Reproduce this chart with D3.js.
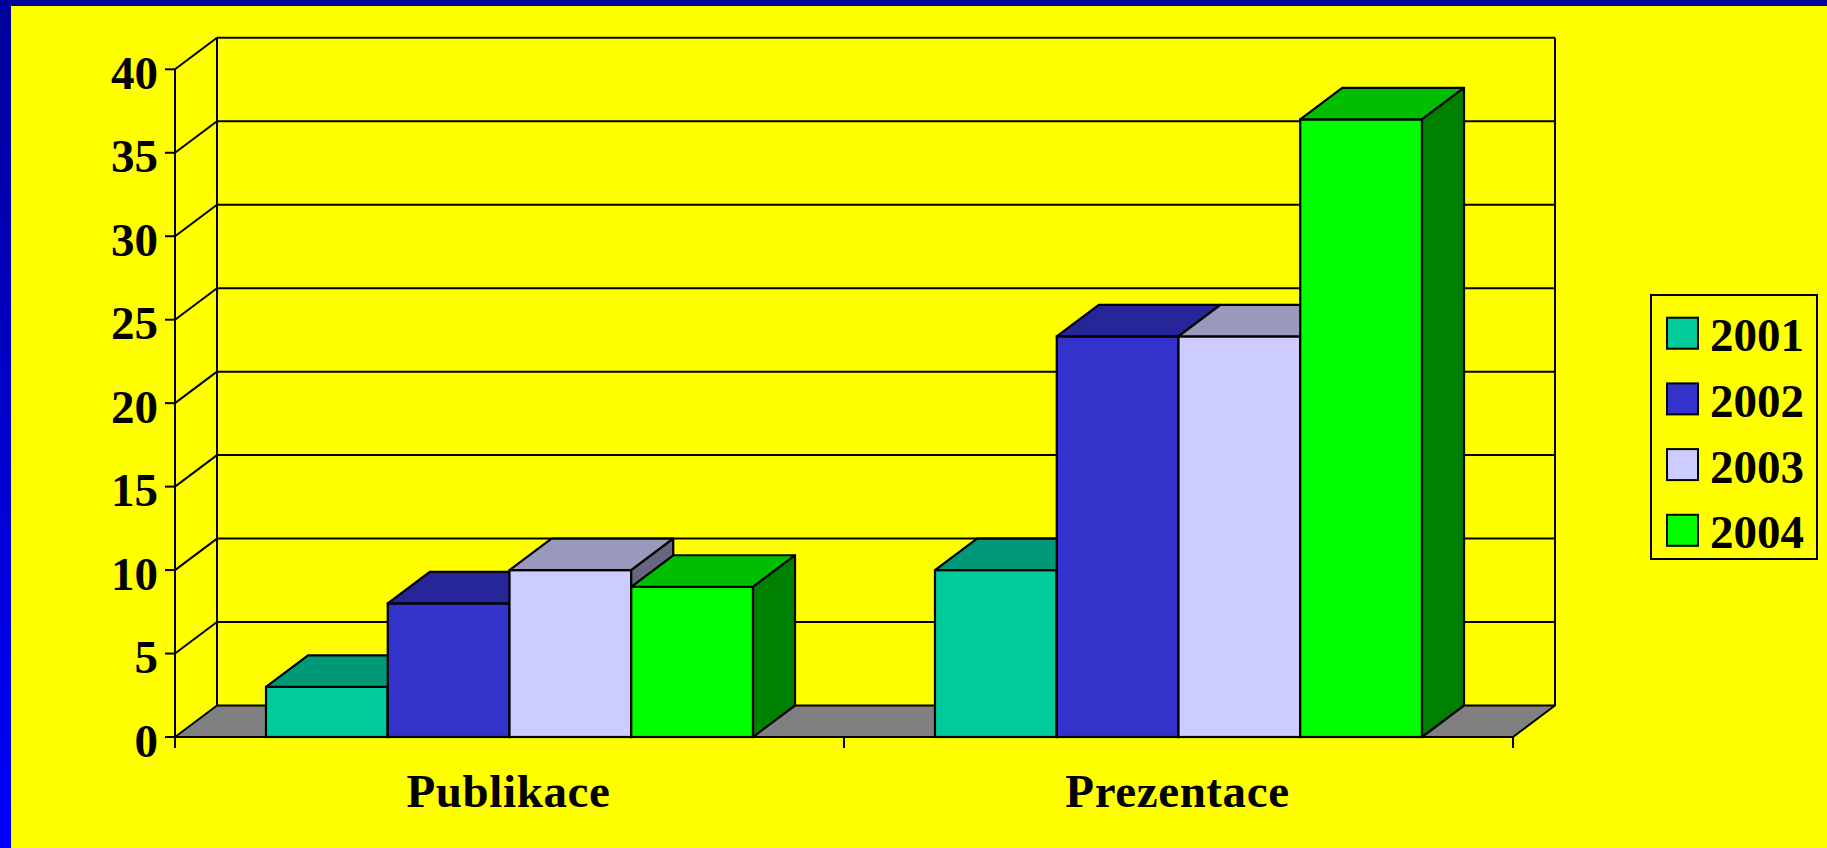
<!DOCTYPE html>
<html>
<head>
<meta charset="utf-8">
<script src="https://cdn.jsdelivr.net/npm/d3@7"></script>
<style>
html,body{margin:0;padding:0;background:#ffff00;}
svg{display:block;}
text{font-family:"Liberation Serif","Times New Roman",serif;font-weight:bold;fill:#000;}
</style>
</head>
<body>
<svg id="chart" width="1827" height="848"></svg>
<script>
const categories = ["Publikace", "Prezentace"];
const years = ["2001", "2002", "2003", "2004"];
const values2001 = [3, 10];
const values2002 = [8, 24];
const values2003 = [10, 24];
const values2004 = [9, 37];
const yTicks = [0, 5, 10, 15, 20, 25, 30, 35, 40];

const seriesValues = [values2001, values2002, values2003, values2004];
const frontColors = ["#00cc99", "#3333cc", "#ccccff", "#00ff00"];
const topColors = ["#009977", "#262699", "#9999bb", "#00bf00"];
const sideColors = ["#007f5f", "#1f1f80", "#666680", "#008000"];

const W = 1827, H = 848;
const svg = d3.select("#chart");

// background + frame
const defs = svg.append("defs");
const grad = defs.append("linearGradient").attr("id", "frameGrad")
  .attr("x1", 0).attr("y1", 0).attr("x2", 0).attr("y2", 1);
grad.append("stop").attr("offset", "0%").attr("stop-color", "#000099");
grad.append("stop").attr("offset", "100%").attr("stop-color", "#0000ff");
svg.append("rect").attr("x", 0).attr("y", 0).attr("width", W).attr("height", H).attr("fill", "url(#frameGrad)");
svg.append("rect").attr("x", 11).attr("y", 6).attr("width", W - 11).attr("height", H - 6).attr("fill", "#ffff00");

// geometry
const xFrontL = 175, xFrontR = 1513;
const dx = 42, dy = 31.5;
const y = d3.scaleLinear().domain([0, 40]).range([737, 69.3]);
const x = d3.scaleBand().domain(categories).range([xFrontL, xFrontR]).paddingInner(0).paddingOuter(0);
const groupW = 487;
const xs = d3.scaleBand().domain(years)
  .range([(x.bandwidth() - groupW) / 2, (x.bandwidth() + groupW) / 2])
  .paddingInner(0).paddingOuter(0);

const y0 = y(0);
const g = svg.append("g");

// gridlines on back wall and side wall
yTicks.filter(v => v > 0).forEach(v => {
  const yy = y(v);
  g.append("line").attr("x1", xFrontL + dx).attr("y1", yy - dy).attr("x2", xFrontR + dx).attr("y2", yy - dy)
    .attr("stroke", "#000").attr("stroke-width", 2);
  g.append("line").attr("x1", xFrontL).attr("y1", yy).attr("x2", xFrontL + dx).attr("y2", yy - dy)
    .attr("stroke", "#000").attr("stroke-width", 2);
});
// back wall verticals
g.append("line").attr("x1", xFrontL + dx).attr("y1", y(40) - dy).attr("x2", xFrontL + dx).attr("y2", y0 - dy)
  .attr("stroke", "#000").attr("stroke-width", 2);
g.append("line").attr("x1", xFrontR + dx).attr("y1", y(40) - dy).attr("x2", xFrontR + dx).attr("y2", y0 - dy)
  .attr("stroke", "#000").attr("stroke-width", 2);

// floor
g.append("polygon")
  .attr("points", [[xFrontL, y0], [xFrontR, y0], [xFrontR + dx, y0 - dy], [xFrontL + dx, y0 - dy]].map(p => p.join(",")).join(" "))
  .attr("fill", "#808080").attr("stroke", "#000").attr("stroke-width", 2).attr("stroke-linejoin", "round");

// bars
categories.forEach((cat, ci) => {
  years.forEach((yr, si) => {
    const v = seriesValues[si][ci];
    const bx = x(cat) + xs(yr);
    const bw = xs.bandwidth();
    const yv = y(v);
    const bg = g.append("g");
    bg.append("rect").attr("x", bx).attr("y", yv).attr("width", bw).attr("height", y0 - yv)
      .attr("fill", frontColors[si]).attr("stroke", "#000").attr("stroke-width", 2.2);
    bg.append("polygon")
      .attr("points", [[bx, yv], [bx + dx, yv - dy], [bx + bw + dx, yv - dy], [bx + bw, yv]].map(p => p.join(",")).join(" "))
      .attr("fill", topColors[si]).attr("stroke", "#000").attr("stroke-width", 2.2).attr("stroke-linejoin", "round");
    bg.append("polygon")
      .attr("points", [[bx + bw, yv], [bx + bw + dx, yv - dy], [bx + bw + dx, y0 - dy], [bx + bw, y0]].map(p => p.join(",")).join(" "))
      .attr("fill", sideColors[si]).attr("stroke", "#000").attr("stroke-width", 2.2).attr("stroke-linejoin", "round");
  });
});

// y axis
g.append("line").attr("x1", xFrontL).attr("y1", y(40)).attr("x2", xFrontL).attr("y2", y0 + 10)
  .attr("stroke", "#000").attr("stroke-width", 2);
const yAxisG = g.append("g");
yTicks.forEach(v => {
  yAxisG.append("line").attr("x1", xFrontL - 10).attr("y1", y(v)).attr("x2", xFrontL).attr("y2", y(v))
    .attr("stroke", "#000").attr("stroke-width", 2);
  yAxisG.append("text").attr("x", 158).attr("y", y(v) + 19.5).attr("text-anchor", "end")
    .attr("font-size", 47).text(v);
});

// x axis
g.append("line").attr("x1", xFrontL).attr("y1", y0).attr("x2", xFrontR).attr("y2", y0)
  .attr("stroke", "#000").attr("stroke-width", 2.2);
const xTickPos = [xFrontL].concat(categories.map(c => x(c) + x.bandwidth()));
xTickPos.forEach(px => {
  g.append("line").attr("x1", px).attr("y1", y0).attr("x2", px).attr("y2", y0 + 11)
    .attr("stroke", "#000").attr("stroke-width", 2);
});
categories.forEach(c => {
  g.append("text").attr("x", x(c) + x.bandwidth() / 2 - 1).attr("y", 806.5).attr("text-anchor", "middle")
    .attr("font-size", 47).attr("letter-spacing", 0.6).text(c);
});

// legend
const lg = svg.append("g");
lg.append("rect").attr("x", 1651).attr("y", 295).attr("width", 166).attr("height", 264)
  .attr("fill", "none").attr("stroke", "#000").attr("stroke-width", 2);
years.forEach((yr, i) => {
  const ty = 317.7 + i * 65.7;
  lg.append("rect").attr("x", 1667).attr("y", ty).attr("width", 31).attr("height", 31)
    .attr("fill", frontColors[i]).attr("stroke", "#000").attr("stroke-width", 2);
  lg.append("text").attr("x", 1710).attr("y", ty + 33.5).attr("font-size", 47).text(yr);
});
</script>
</body>
</html>
